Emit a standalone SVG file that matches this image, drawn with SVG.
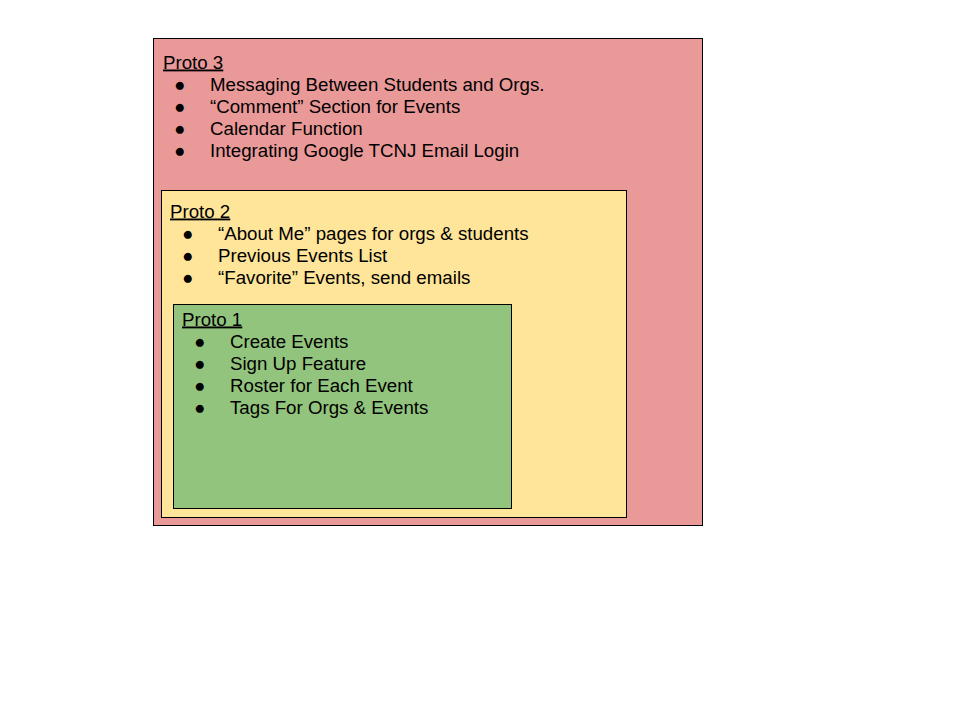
<svg xmlns="http://www.w3.org/2000/svg" width="960" height="720" viewBox="0 0 960 720">
<style>
  .box{stroke:#000;stroke-width:1}
  text{font-family:"Liberation Sans",Arial,sans-serif;font-size:18.7px;fill:#000}
  .title{text-decoration:underline}
</style>
<rect width="960" height="720" fill="#fff"/>
<g id="proto3">
  <rect class="box" x="153.5" y="38.5" width="549" height="487" fill="#ea9999"/>
  <text class="title" x="163" y="68.5">Proto 3</text>
  <text x="174" y="90.5">●</text><text x="210" y="90.5">Messaging Between Students and Orgs.</text>
  <text x="174" y="112.5">●</text><text x="210" y="112.5">“Comment” Section for Events</text>
  <text x="174" y="134.5">●</text><text x="210" y="134.5">Calendar Function</text>
  <text x="174" y="156.5">●</text><text x="210" y="156.5">Integrating Google TCNJ Email Login</text>
</g>
<g id="proto2">
  <rect class="box" x="161.5" y="190.5" width="465" height="327" fill="#ffe599"/>
  <text class="title" x="170" y="217.5">Proto 2</text>
  <text x="182" y="239.5">●</text><text x="218" y="239.5">“About Me” pages for orgs &amp; students</text>
  <text x="182" y="261.5">●</text><text x="218" y="261.5">Previous Events List</text>
  <text x="182" y="283.5">●</text><text x="218" y="283.5">“Favorite” Events, send emails</text>
</g>
<g id="proto1">
  <rect class="box" x="173.5" y="304.5" width="338" height="204" fill="#93c47d"/>
  <text class="title" x="182" y="325.5">Proto 1</text>
  <text x="194" y="347.5">●</text><text x="230" y="347.5">Create Events</text>
  <text x="194" y="369.5">●</text><text x="230" y="369.5">Sign Up Feature</text>
  <text x="194" y="391.5">●</text><text x="230" y="391.5">Roster for Each Event</text>
  <text x="194" y="413.5">●</text><text x="230" y="413.5">Tags For Orgs &amp; Events</text>
</g>
<g id="connectors"></g>
</svg>
